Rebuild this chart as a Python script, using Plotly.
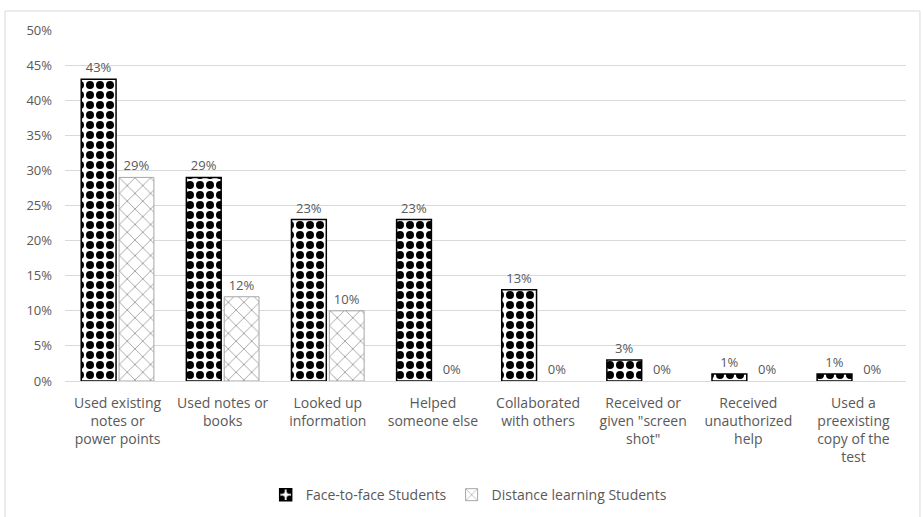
import plotly.graph_objects as go

categories = [
    "Used existing<br>notes or<br>power points",
    "Used notes or<br>books",
    "Looked up<br>information",
    "Helped<br>someone else",
    "Collaborated<br>with others",
    "Received or<br>given \"screen<br>shot\"",
    "Received<br>unauthorized<br>help",
    "Used a<br>preexisting<br>copy of the<br>test",
]
face_to_face = [0.43, 0.29, 0.23, 0.23, 0.13, 0.03, 0.01, 0.01]
distance = [0.29, 0.12, 0.10, 0.00, 0.00, 0.00, 0.00, 0.00]
y_ticks = [0, 0.05, 0.10, 0.15, 0.20, 0.25, 0.30, 0.35, 0.40, 0.45, 0.50]

FONT = "Open Sans"
GRAY = "#595959"

fig = go.Figure()
fig.add_trace(go.Bar(
    x=categories, y=face_to_face, name="Face-to-face Students",
    marker=dict(color="white", line=dict(color="black", width=1.5),
                pattern=dict(shape=".", fgcolor="black", bgcolor="white", fgopacity=1,
                             size=10, solidity=0.5, fillmode="overlay")),
    texttemplate="%{y:.0%}", textposition="outside",
    textfont=dict(family=FONT, size=13, color=GRAY), cliponaxis=False,
))
fig.add_trace(go.Bar(
    x=categories, y=distance, name="Distance learning Students",
    marker=dict(color="white",
                line=dict(color="#a6a6a6", width=[1 if v > 0 else 0 for v in distance]),
                pattern=dict(shape="x", fgcolor="#808080", bgcolor="white", fgopacity=1,
                             size=11, solidity=0.12, fillmode="overlay")),
    texttemplate="%{y:.0%}", textposition="outside",
    textfont=dict(family=FONT, size=13, color=GRAY), cliponaxis=False,
))

fig.update_layout(
    width=923, height=517,
    margin=dict(l=65, r=17, t=30, b=136, autoexpand=False),
    paper_bgcolor="white", plot_bgcolor="white",
    barmode="group", bargap=0.28, bargroupgap=0.08,
    font=dict(family=FONT, size=12, color=GRAY),
    showlegend=True,
    legend=dict(orientation="h", x=0.48, xanchor="center", y=-0.325, yanchor="middle",
                font=dict(family=FONT, size=14, color=GRAY), traceorder="normal",
                itemwidth=30),
    shapes=[dict(type="rect", xref="paper", yref="paper",
                 x0=-0.0713, x1=1.0166, y0=-0.45, y1=1.054,
                 line=dict(color="#d9d9d9", width=1), fillcolor="rgba(0,0,0,0)",
                 layer="below")],
)
fig.update_xaxes(showline=True, linecolor="#d9d9d9", linewidth=1, ticks="",
                 ticklabelstandoff=9, automargin=False,
                 tickfont=dict(family=FONT, size=14, color=GRAY), tickangle=0)
fig.update_yaxes(range=[0, 0.5], tickvals=y_ticks, tickformat=".0%",
                 showgrid=True, gridcolor="#d9d9d9", gridwidth=1, zeroline=False,
                 showline=False, ticks="", ticklabelstandoff=12, automargin=False,
                 tickfont=dict(family=FONT, size=13, color=GRAY))

fig.write_html("out.html")
